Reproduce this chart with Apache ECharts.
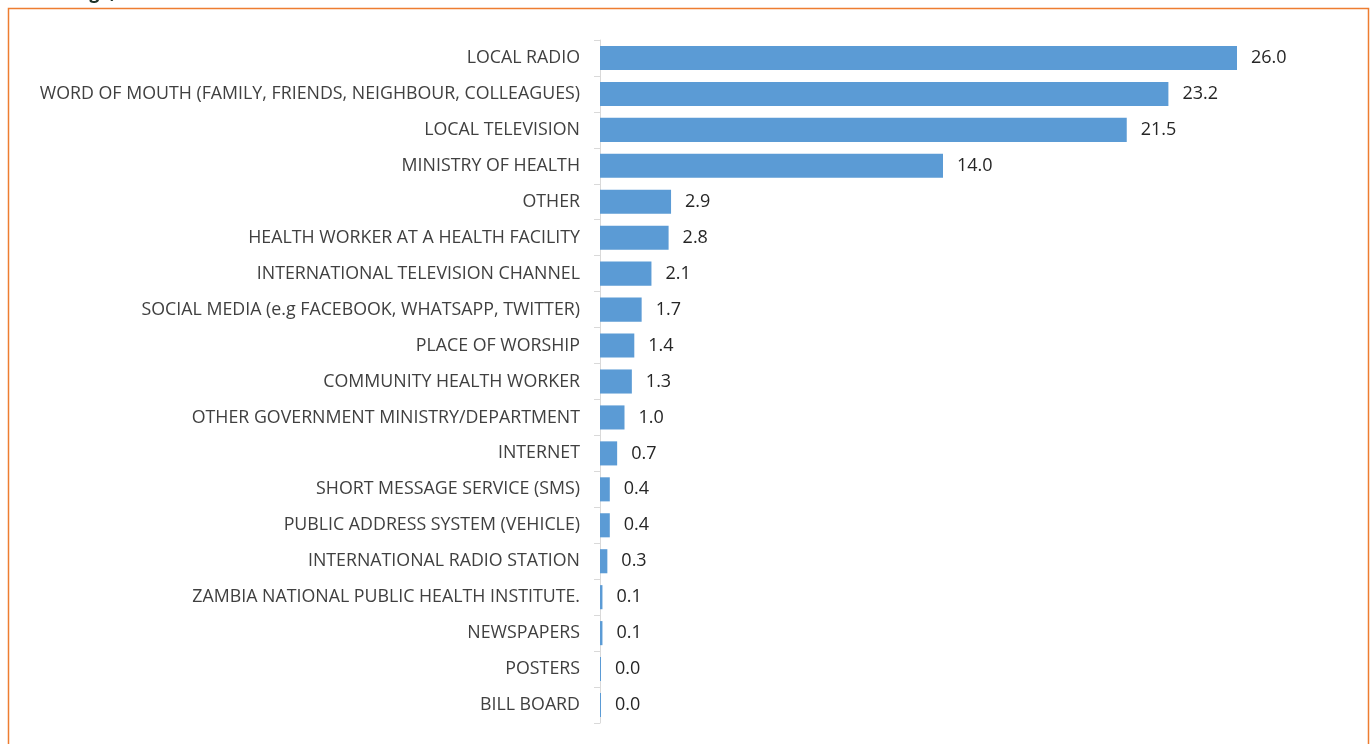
<!DOCTYPE html>
<html>
<head>
<meta charset="utf-8">
<script src="https://cdn.jsdelivr.net/npm/echarts@6/dist/echarts.min.js"></script>
<style>
  html, body { margin: 0; padding: 0; background: #ffffff; }
  #chart { width: 1372px; height: 744px; }
</style>
</head>
<body>
<div id="chart"></div>
<script>
// Sources of information, percent of respondents
const categories = [
  'LOCAL RADIO',
  'WORD OF MOUTH (FAMILY, FRIENDS, NEIGHBOUR, COLLEAGUES)',
  'LOCAL TELEVISION',
  'MINISTRY OF HEALTH',
  'OTHER',
  'HEALTH WORKER AT A HEALTH FACILITY',
  'INTERNATIONAL TELEVISION CHANNEL',
  'SOCIAL MEDIA (e.g FACEBOOK, WHATSAPP, TWITTER)',
  'PLACE OF WORSHIP',
  'COMMUNITY HEALTH WORKER',
  'OTHER GOVERNMENT MINISTRY/DEPARTMENT',
  'INTERNET',
  'SHORT MESSAGE SERVICE (SMS)',
  'PUBLIC ADDRESS SYSTEM (VEHICLE)',
  'INTERNATIONAL RADIO STATION',
  'ZAMBIA NATIONAL PUBLIC HEALTH INSTITUTE.',
  'NEWSPAPERS',
  'POSTERS',
  'BILL BOARD'
];
const percentages = [26.0, 23.2, 21.5, 14.0, 2.9, 2.8, 2.1, 1.7, 1.4, 1.3, 1.0, 0.7, 0.4, 0.4, 0.3, 0.1, 0.1, 0.0, 0.0];
const headingText = 'message, %';

const chart = echarts.init(document.getElementById('chart'), null, { renderer: 'canvas' });

chart.setOption({
  backgroundColor: '#ffffff',
  animation: false,
  graphic: [
    {
      type: 'rect',
      shape: { x: 8.5, y: 8.5, width: 1360, height: 760 },
      style: { fill: 'none', stroke: '#ed7d31', lineWidth: 1.5 },
      silent: true
    },
    {
      type: 'text',
      x: 138,
      y: 2,
      style: {
        text: headingText,
        align: 'right',
        verticalAlign: 'bottom',
        font: 'italic bold 19px "Open Sans"',
        fill: '#1e3328'
      },
      silent: true
    }
  ],
  grid: { left: 600, top: 40, width: 735, height: 683, containLabel: false },
  xAxis: {
    type: 'value',
    min: 0,
    max: 30,
    show: false
  },
  yAxis: {
    type: 'category',
    data: categories,
    inverse: true,
    axisLine: { show: true, lineStyle: { color: '#d9d9d9', width: 1 } },
    axisTick: { show: true, length: 6, lineStyle: { color: '#d9d9d9' } },
    axisLabel: {
      margin: 20,
      color: '#404040',
      fontSize: 17.8,
      fontFamily: '"Open Sans"',
      padding: [4, 0, 0, 0]
    }
  },
  series: [{
    type: 'bar',
    data: percentages,
    barCategoryGap: '33%',
    barMinHeight: 1,
    itemStyle: { color: '#5b9bd5' },
    label: {
      show: true,
      position: 'right',
      distance: 14,
      color: '#262626',
      fontSize: 18,
      fontFamily: '"Open Sans"',
      padding: [4, 0, 0, 0],
      formatter: p => p.value.toFixed(1)
    }
  }]
});
</script>
</body>
</html>
